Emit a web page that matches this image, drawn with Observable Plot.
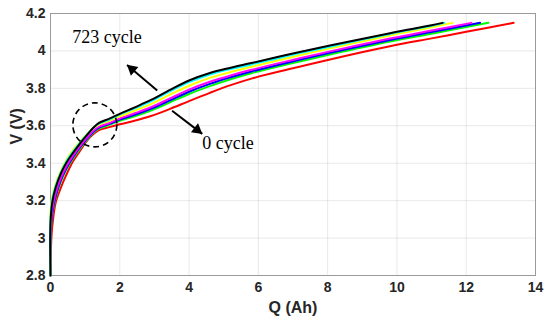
<!DOCTYPE html>
<html>
<head>
<meta charset="utf-8">
<script src="https://cdn.jsdelivr.net/npm/d3@7"></script>
<script src="https://cdn.jsdelivr.net/npm/@observablehq/plot@0.6"></script>
<style>
  html, body { margin: 0; padding: 0; background: #fff; }
  #chart { width: 550px; height: 321px; }
</style>
</head>
<body>
<div id="chart"></div>
<script>
// ---- Data ----
const xTicks = [0, 2, 4, 6, 8, 10, 12, 14];
const yTicks = [2.8, 3, 3.2, 3.4, 3.6, 3.8, 4, 4.2];

const qBlack   = [0, 0, 0.05, 0.15, 0.3, 0.45, 0.65, 0.85, 1.05, 1.25, 1.4, 1.7, 2.0, 2.45, 2.9, 3.45, 4.0, 4.6, 5.2, 5.8, 6.9, 8.1, 9.8, 11.0, 11.32];
const vBlack   = [2.8, 3.08, 3.19, 3.27, 3.345, 3.40, 3.455, 3.505, 3.55, 3.592, 3.615, 3.638, 3.664, 3.700, 3.738, 3.792, 3.842, 3.882, 3.910, 3.935, 3.982, 4.03, 4.095, 4.137, 4.15];

const qCyan    = [0, 0, 0.05, 0.15, 0.3, 0.45, 0.65, 0.85, 1.05, 1.25, 1.4, 1.7, 2.0, 2.45, 2.9, 3.45, 4.0, 4.6, 5.2, 5.8, 6.9, 8.1, 9.8, 11.0, 11.37];
const vCyan    = [2.8, 3.1, 3.205, 3.28, 3.352, 3.408, 3.462, 3.51, 3.552, 3.591, 3.611, 3.633, 3.660, 3.694, 3.731, 3.784, 3.833, 3.874, 3.903, 3.928, 3.976, 4.024, 4.091, 4.134, 4.15];

const qYellow  = [0, 0, 0.05, 0.15, 0.3, 0.45, 0.65, 0.85, 1.05, 1.25, 1.4, 1.7, 2.0, 2.45, 2.9, 3.45, 4.0, 4.6, 5.2, 5.8, 6.9, 8.1, 9.8, 11.0, 11.6];
const vYellow  = [2.8, 3.13, 3.22, 3.29, 3.36, 3.415, 3.47, 3.515, 3.555, 3.59, 3.607, 3.627, 3.650, 3.682, 3.716, 3.766, 3.814, 3.856, 3.887, 3.915, 3.964, 4.015, 4.083, 4.126, 4.15];

const qMagenta = [0, 0, 0.05, 0.15, 0.3, 0.45, 0.65, 0.85, 1.05, 1.25, 1.4, 1.7, 2.0, 2.45, 2.9, 3.45, 4.0, 4.6, 5.2, 5.8, 6.9, 8.1, 9.8, 11.0, 12.15];
const vMagenta = [2.8, 3.03, 3.15, 3.24, 3.32, 3.38, 3.44, 3.49, 3.535, 3.575, 3.595, 3.615, 3.639, 3.668, 3.699, 3.746, 3.793, 3.835, 3.869, 3.899, 3.948, 3.999, 4.066, 4.109, 4.15];

const qBlue    = [0, 0, 0.05, 0.15, 0.3, 0.45, 0.65, 0.85, 1.05, 1.25, 1.4, 1.7, 2.0, 2.45, 2.9, 3.45, 4.0, 4.6, 5.2, 5.8, 6.9, 8.1, 9.8, 11.0, 12.4];
const vBlue    = [2.8, 3.0, 3.13, 3.225, 3.31, 3.37, 3.432, 3.484, 3.53, 3.57, 3.59, 3.61, 3.633, 3.660, 3.691, 3.736, 3.782, 3.824, 3.859, 3.890, 3.940, 3.991, 4.058, 4.101, 4.15];

const qGreen   = [0, 0, 0.05, 0.15, 0.3, 0.45, 0.65, 0.85, 1.05, 1.25, 1.4, 1.7, 2.0, 2.45, 2.9, 3.45, 4.0, 4.6, 5.2, 5.8, 6.9, 8.1, 9.8, 11.0, 12.64];
const vGreen   = [2.8, 2.98, 3.12, 3.215, 3.3, 3.362, 3.425, 3.478, 3.525, 3.566, 3.585, 3.605, 3.627, 3.652, 3.681, 3.725, 3.770, 3.812, 3.849, 3.881, 3.931, 3.982, 4.050, 4.092, 4.15];

const qRed     = [0, 0.02, 0.05, 0.15, 0.3, 0.45, 0.65, 0.85, 1.05, 1.25, 1.4, 1.7, 2.0, 2.45, 2.9, 3.45, 4.0, 4.6, 5.2, 5.8, 6.9, 8.1, 9.8, 11.0, 12.0, 13.37];
const vRed     = [2.8, 2.98, 3.06, 3.19, 3.27, 3.335, 3.41, 3.465, 3.52, 3.557, 3.577, 3.593, 3.608, 3.628, 3.652, 3.690, 3.732, 3.776, 3.817, 3.852, 3.903, 3.956, 4.025, 4.067, 4.102, 4.15];

// Annotations
const labelTexts = ["723 cycle", "0 cycle"];
const labelQ = [0.63, 4.38];
const labelV = [4.075, 3.508];
const arrowTailQ = [3.08, 3.51];
const arrowTailV = [3.788, 3.68];
const arrowTipQ  = [2.21, 4.38];
const arrowTipV  = [3.925, 3.557];
const circleQ = [1.28];
const circleV = [3.605];

// ---- Build tables ----
const series = [
  {color: "#ff0000", q: qRed, v: vRed},
  {color: "#00ff00", q: qGreen, v: vGreen},
  {color: "#0000ff", q: qBlue, v: vBlue},
  {color: "#ff00ff", q: qMagenta, v: vMagenta},
  {color: "#ffff00", q: qYellow, v: vYellow},
  {color: "#00ffff", q: qCyan, v: vCyan},
  {color: "#000000", q: qBlack, v: vBlack}
];
const labels = labelTexts.map((t, i) => ({t, q: labelQ[i], v: labelV[i]}));
const arrows = arrowTailQ.map((_, i) => ({x1: arrowTailQ[i], y1: arrowTailV[i], x2: arrowTipQ[i], y2: arrowTipV[i]}));
const circle = circleQ.map((q, i) => ({q, v: circleV[i]}));

const chart = Plot.plot({
  width: 550,
  height: 321,
  marginLeft: 50,
  marginRight: 15,
  marginTop: 13,
  marginBottom: 46,
  style: {
    fontFamily: "'Liberation Sans', Arial, sans-serif",
    fontSize: "14px",
    fontWeight: "bold",
    color: "#262626",
    background: "#ffffff"
  },
  x: {domain: [0, 14], ticks: xTicks, tickFormat: d => String(d), tickSize: 0, tickPadding: 7, label: null, grid: true},
  y: {domain: [2.8, 4.2], ticks: yTicks, tickFormat: d => String(d), tickSize: 0, tickPadding: 5, label: null, grid: true},
  marks: [
    Plot.frame({stroke: "#9a9a9a", strokeWidth: 1}),
    ...series.map(s => Plot.line(d3.range(s.q.length), {
      x: i => s.q[i], y: i => s.v[i], stroke: s.color, strokeWidth: 2, curve: "catmull-rom"
    })),
    Plot.dot(circle, {x: "q", y: "v", r: 22, stroke: "#000", strokeWidth: 1.6, strokeDasharray: "6,4", fill: "none"}),
    Plot.link(arrows, {x1: "x1", y1: "y1", x2: "x2", y2: "y2", stroke: "#000", strokeWidth: 2}),
    Plot.dot([arrows[0]], {x: "x2", y: "y2", symbol: "triangle", r: 4.3, fill: "#000", stroke: "none", rotate: -50, dx: 5, dy: 4.2}),
    Plot.dot([arrows[1]], {x: "x2", y: "y2", symbol: "triangle", r: 4.3, fill: "#000", stroke: "none", rotate: 128, dx: -5.1, dy: -4}),
    Plot.text(labels, {x: "q", y: "v", text: "t", textAnchor: "start", lineAnchor: "middle",
      fontFamily: "'Liberation Serif', 'DejaVu Serif', serif", fontWeight: "normal", fontSize: 18, fill: "#000"}),
    Plot.text(["Q (Ah)"], {frameAnchor: "bottom", dy: 37, fontSize: 16, fontWeight: "bold", fill: "#262626"}),
    Plot.text(["V (V)"], {frameAnchor: "left", dx: -34, rotate: -90, fontSize: 16, fontWeight: "bold", fill: "#262626"})
  ]
});
document.getElementById("chart").appendChild(chart);
</script>
</body>
</html>
